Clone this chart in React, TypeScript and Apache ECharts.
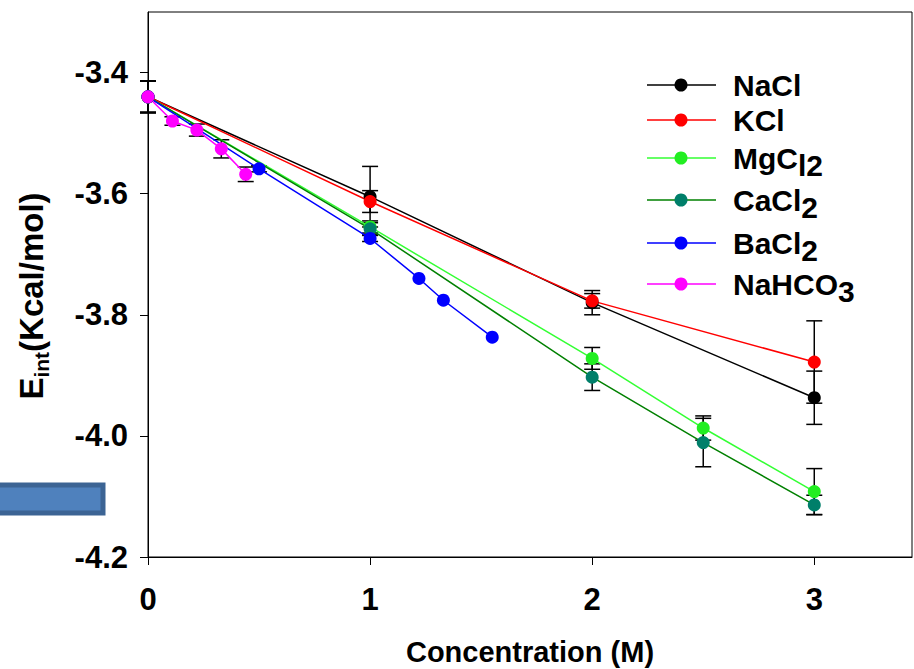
import React, { useEffect, useRef } from "react";
import * as echarts from "echarts";

// ---- data ----
const seriesNames = ["NaCl", "KCl", "MgCl2", "CaCl2", "BaCl2", "NaHCO3"];
const legendLabels = [
  "{n|NaCl}",
  "{n|KCl}",
  "{n|MgC}{s|l2}",
  "{n|CaCl}{s|2}",
  "{n|BaCl}{s|2}",
  "{n|NaHCO}{s|3}",
];
const lineColors = ["#000000", "#ff0000", "#33ff33", "#008000", "#0000ff", "#ff00ff"];
const markerColors = ["#000000", "#ff0000", "#22ee22", "#007f6a", "#0000ff", "#ff00ff"];

const naclX = [0, 1, 2, 3];
const naclY = [-3.44, -3.605, -3.78, -3.937];
const naclErr = [0.026, 0.05, 0.02, 0.044];

const kclX = [0, 1, 2, 3];
const kclY = [-3.44, -3.613, -3.777, -3.878];
const kclErr = [0.026, 0.018, 0.012, 0.068];

const mgX = [0, 1, 2, 2.5, 3];
const mgY = [-3.44, -3.655, -3.872, -3.987, -4.092];
const mgErr = [0.026, 0.01, 0.018, 0.02, 0.038];

const caX = [0, 1, 2, 2.5, 3];
const caY = [-3.44, -3.658, -3.903, -4.011, -4.114];
const caErr = [0.026, 0.01, 0.022, 0.04, 0.016];

const baX = [0, 0.5, 1, 1.22, 1.33, 1.55];
const baY = [-3.44, -3.559, -3.674, -3.74, -3.776, -3.837];
const baErr = [0.026, 0.005, 0.005, 0, 0, 0];

const nahX = [0, 0.11, 0.22, 0.33, 0.44];
const nahY = [-3.44, -3.48, -3.495, -3.526, -3.568];
const nahErr = [0.026, 0.007, 0.01, 0.015, 0.012];

const xTicks = [0, 1, 2, 3];
const yTicks = [-4.2, -4.0, -3.8, -3.6, -3.4];

const allX = [naclX, kclX, mgX, caX, baX, nahX];
const allY = [naclY, kclY, mgY, caY, baY, nahY];
const allErr = [naclErr, kclErr, mgErr, caErr, baErr, nahErr];

const FONT = "'Liberation Sans', Arial, sans-serif";

export default function App() {
  const ref = useRef<HTMLDivElement>(null);
  useEffect(() => {
    if (!ref.current) return;
    const chart = echarts.init(ref.current, undefined, { renderer: "svg" });

    const lineSeries = seriesNames.map((name, i) => ({
      name,
      type: "line",
      data: allX[i].map((x, j) => [x, allY[i][j]]),
      symbol: "circle",
      symbolSize: 13,
      showSymbol: true,
      lineStyle: { color: lineColors[i], width: 1.5 },
      itemStyle: { color: markerColors[i] },
      z: 3,
      silent: true,
    }));

    const errSeries = seriesNames.map((name, i) => ({
      name: name + "_err",
      type: "custom",
      z: 2,
      silent: true,
      data: allX[i].map((x, j) => [x, allY[i][j], allErr[i][j]]),
      encode: { x: 0, y: 1 },
      renderItem: (params: any, api: any) => {
        const x = api.value(0);
        const y = api.value(1);
        const e = api.value(2);
        if (!e) return { type: "group", children: [] };
        const top = api.coord([x, y + e]);
        const bot = api.coord([x, y - e]);
        const hw = 8;
        const st = { stroke: "#000", lineWidth: 1.5 };
        return {
          type: "group",
          children: [
            { type: "line", shape: { x1: top[0], y1: top[1], x2: bot[0], y2: bot[1] }, style: st },
            { type: "line", shape: { x1: top[0] - hw, y1: top[1], x2: top[0] + hw, y2: top[1] }, style: st },
            { type: "line", shape: { x1: bot[0] - hw, y1: bot[1], x2: bot[0] + hw, y2: bot[1] }, style: st },
          ],
        };
      },
    }));

    const legendRows = [85, 120, 158, 200, 243, 284];
    const legendGraphics: any[] = [];
    seriesNames.forEach((_, i) => {
      const y = legendRows[i];
      legendGraphics.push({
        type: "line",
        shape: { x1: 647, y1: y, x2: 716, y2: y },
        style: { stroke: lineColors[i], lineWidth: 1.5 },
        silent: true,
      });
      legendGraphics.push({
        type: "circle",
        shape: { cx: 681, cy: y, r: 6.5 },
        style: { fill: markerColors[i] },
        silent: true,
      });
      legendGraphics.push({
        type: "text",
        x: 733,
        y: y - 15,
        silent: true,
        style: {
          text: legendLabels[i],
          textAlign: "left",
          textVerticalAlign: "top",
          verticalAlign: "top",
          rich: {
            n: { fontSize: 30, fontWeight: "bold", fontFamily: FONT, fill: "#000", lineHeight: 30, verticalAlign: "top" },
            s: { fontSize: 30, fontWeight: "bold", fontFamily: FONT, fill: "#000", lineHeight: 30, verticalAlign: "top", padding: [7, 0, 0, 0] },
          },
        },
      });
    });

    const option: any = {
      animation: false,
      backgroundColor: "#ffffff",
      grid: {
        left: 148,
        top: 12,
        right: 2,
        bottom: 112,
        show: true,
        borderColor: "#000",
        borderWidth: 1,
        backgroundColor: "transparent",
        containLabel: false,
        outerBoundsMode: "none",
      },
      xAxis: {
        type: "value",
        min: 0,
        max: 3.44,
        interval: 1,
        name: "Concentration (M)",
        nameLocation: "middle",
        nameGap: 80,
        nameTextStyle: { fontSize: 29, fontWeight: "bold", fontFamily: FONT, color: "#000" },
        axisLine: { show: true, lineStyle: { color: "#000", width: 1 } },
        axisTick: { show: true, length: 8, lineStyle: { color: "#000" }, customValues: xTicks },
        axisLabel: {
          customValues: xTicks,
          margin: 27,
          fontSize: 31,
          fontWeight: "bold",
          fontFamily: FONT,
          color: "#000",
          formatter: (v: number) => String(v),
        },
        splitLine: { show: false },
      },
      yAxis: {
        type: "value",
        min: -4.2,
        max: -3.3,
        interval: 0.2,
        axisLine: { show: true, lineStyle: { color: "#000", width: 1 } },
        axisTick: { show: true, length: 8, lineStyle: { color: "#000" }, customValues: yTicks },
        axisLabel: {
          customValues: yTicks,
          margin: 20,
          fontSize: 31,
          fontWeight: "bold",
          fontFamily: FONT,
          color: "#000",
          formatter: (v: number) => v.toFixed(1),
        },
        splitLine: { show: false },
      },
      graphic: [
        {
          type: "rect",
          shape: { x: -5, y: 485, width: 108, height: 28 },
          style: { fill: "#4f81bd", stroke: "#3c6494", lineWidth: 5 },
          silent: true,
        },
        {
          type: "text",
          x: 32,
          y: 296,
          rotation: Math.PI / 2,
          silent: true,
          style: {
            text: "{e|E}{s|int}{e|(Kcal/mol)}",
            textAlign: "center",
            textVerticalAlign: "middle",
            align: "center",
            verticalAlign: "middle",
            rich: {
              e: { fontSize: 33, fontWeight: "bold", fontFamily: FONT, fill: "#000", lineHeight: 34, verticalAlign: "top" },
              s: { fontSize: 21, fontWeight: "bold", fontFamily: FONT, fill: "#000", lineHeight: 21, verticalAlign: "top", padding: [16, 0, 0, 0] },
            },
          },
        },
        ...legendGraphics,
      ],
      series: [...errSeries, ...lineSeries],
    };
    chart.setOption(option);
    return () => chart.dispose();
  }, []);
  return <div ref={ref} style={{ width: 914, height: 669, position: "absolute", left: 0, top: 0 }} />;
}
